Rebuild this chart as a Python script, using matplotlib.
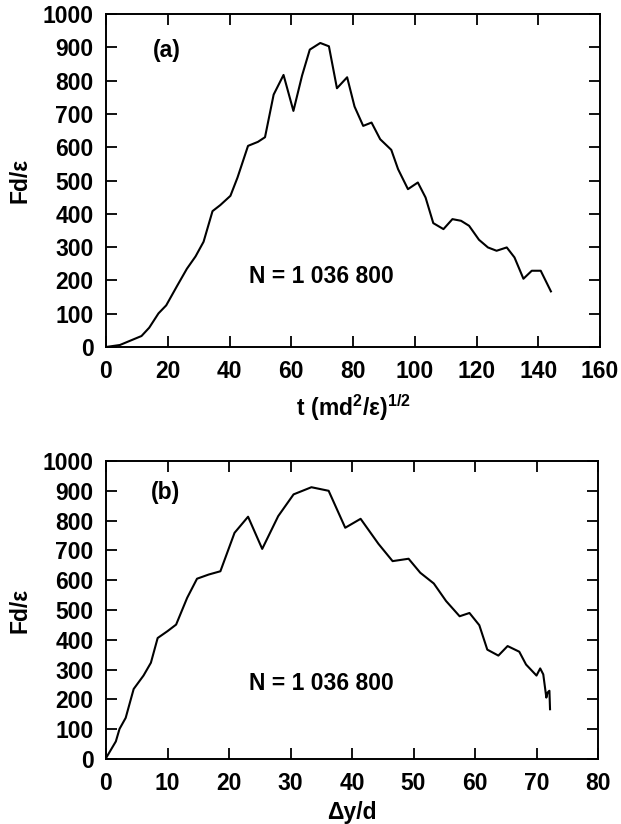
import matplotlib
matplotlib.use("Agg")
import matplotlib.pyplot as plt

# ---- data: panel (a) force vs time ----
t_a = [0, 4.5, 8.9, 11.5, 14, 17, 19.5, 23, 26.2, 29, 31.6, 34.5, 37, 40.3, 42.6, 46,
       49.2, 51.5, 54.3, 57.5, 60.7, 63.5, 66, 69.4, 72.2, 74.8, 78.1, 80.5, 83.3, 86,
       88.8, 92.4, 94.6, 97.8, 101, 103.5, 106, 109.3, 112.2, 115, 117.6, 120.8, 123.7,
       126.5, 129.8, 132.3, 135.2, 137.9, 140.8, 144.1]
F_a = [0, 6, 23, 33, 58, 101, 125, 183, 235, 272, 316, 408, 426, 454, 509, 604,
       616, 630, 758, 817, 709, 815, 893, 913, 903, 777, 810, 722, 664, 674,
       624, 592, 534, 474, 494, 449, 372, 354, 384, 379, 364, 322, 299,
       289, 299, 269, 205, 229, 229, 167]

# ---- data: panel (b) force vs displacement ----
y_b = [0, 1.6, 2.2, 3.2, 4.5, 6.1, 7.3, 8.4, 10, 11.4, 13.2, 14.8, 16.7, 18.6, 20.9,
       23.1, 25.4, 28, 30.5, 33.4, 36.2, 38.9, 41.4, 44.3, 46.6, 49.2, 51.1, 53.3,
       55.3, 57.5, 59.1, 60.7, 62, 63.8, 65.3, 67.2, 68.3, 70.0, 70.6, 71.1, 71.6,
       71.8, 72.1, 72.2]
F_b = [3, 59, 101, 138, 235, 280, 323, 406, 429, 451, 541, 605, 619, 630, 759,
       813, 705, 815, 888, 912, 900, 776, 806, 722, 664, 672, 625, 589,
       530, 479, 490, 449, 367, 347, 379, 360, 317, 280, 304, 284, 206,
       223, 229, 167]

yticks = [0, 100, 200, 300, 400, 500, 600, 700, 800, 900, 1000]
xticks_a = [0, 20, 40, 60, 80, 100, 120, 140, 160]
xticks_b = [0, 10, 20, 30, 40, 50, 60, 70, 80]
label_text = "N = 1 036 800"

plt.rcParams['font.family'] = ['Liberation Sans', 'DejaVu Sans']
plt.rcParams['font.weight'] = 'bold'
plt.rcParams['mathtext.fontset'] = 'custom'
plt.rcParams['mathtext.rm'] = 'Liberation Sans:bold'
plt.rcParams['mathtext.it'] = 'Liberation Sans:bold'
plt.rcParams['mathtext.bf'] = 'Liberation Sans:bold'

W, H = 621, 824
fig = plt.figure(figsize=(W / 100, H / 100), dpi=100)

def px_axes(x0, x1, y0, y1):
    return fig.add_axes([x0 / W, 1 - y1 / H, (x1 - x0) / W, (y1 - y0) / H])

ax1 = px_axes(106, 600, 14, 347)
ax2 = px_axes(106, 598, 461, 759)

fs = 16.5
for ax, xt in ((ax1, xticks_a), (ax2, xticks_b)):
    ax.set_ylim(0, 1000)
    ax.set_xlim(xt[0], xt[-1])
    ax.set_yticks(yticks)
    ax.set_xticks(xt)
    ax.tick_params(direction='in', length=8, width=1.3, top=True, right=True,
                   labelsize=fs, pad=9)
    for lab in ax.get_xticklabels() + ax.get_yticklabels():
        lab.set_fontweight('bold')
    for s in ax.spines.values():
        s.set_linewidth(1.4)
    ax.set_ylabel("Fd/ε", fontsize=fs, fontweight='bold', labelpad=8)

ax1.plot(t_a, F_a, color='black', lw=1.5)
ax2.plot(y_b, F_b, color='black', lw=1.5)

ax1.text(19.6, 890, "(a)", fontsize=fs, fontweight='bold', ha='center', va='center')
ax2.text(9.6, 893, "(b)", fontsize=fs, fontweight='bold', ha='center', va='center')
ax1.text(69.6, 213, label_text, fontsize=fs, fontweight='bold', ha='center', va='center')
ax2.text(35.0, 255, label_text, fontsize=fs, fontweight='bold', ha='center', va='center')

ax1.set_xlabel(r"$\mathrm{t\ (md^{2}/ε)^{1/2}}$", fontsize=fs, labelpad=7)
ax2.set_xlabel("Δy/d", fontsize=fs, fontweight='bold', labelpad=5)

fig.savefig("out.png", dpi=100)
